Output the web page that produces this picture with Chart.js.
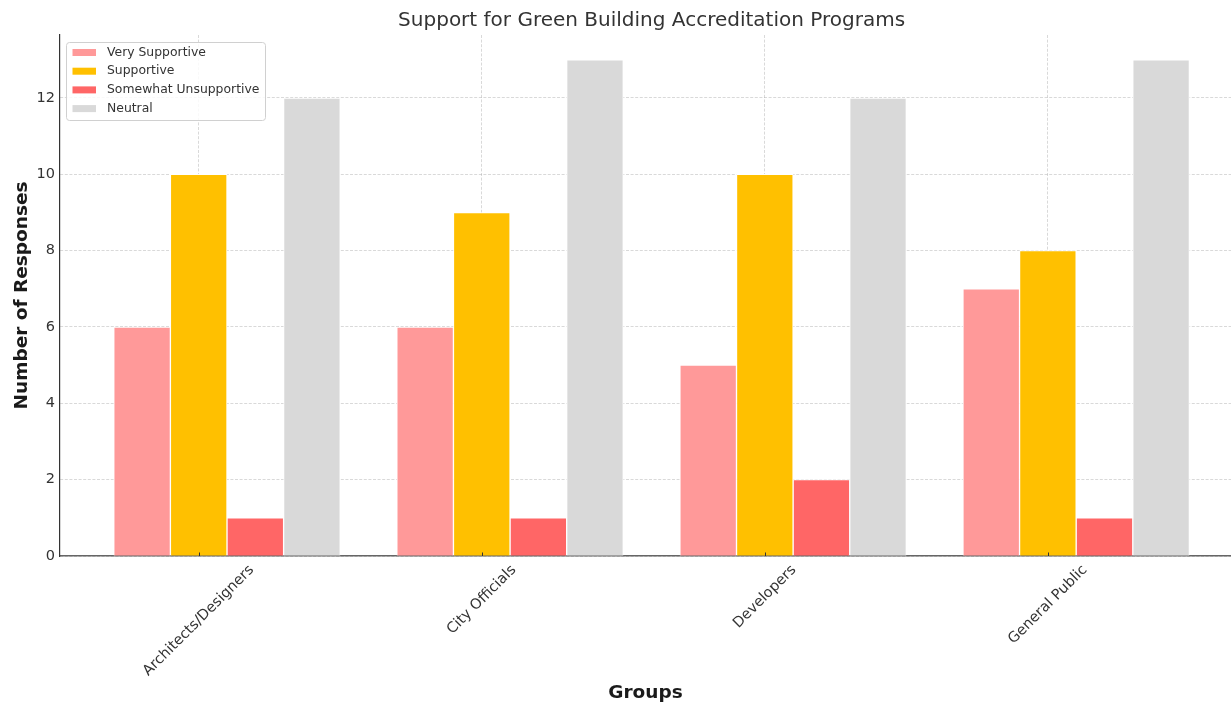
<!DOCTYPE html>
<html>
<head>
<meta charset="utf-8">
<title>Support for Green Building Accreditation Programs</title>
<script src="https://cdn.jsdelivr.net/npm/chart.js@4"></script>
<style>
    html, body { margin: 0; padding: 0; background: #fff; overflow: hidden; }
    canvas { display: block; }
</style>
</head>
<body>
<canvas id="supportChart" width="1231" height="704"></canvas>
<script>
const chartTitle = "Support for Green Building Accreditation Programs"
const groups = ["Architects/Designers", "City Officials", "Developers", "General Public"]
const seriesNames = ["Very Supportive", "Supportive", "Somewhat Unsupportive", "Neutral"]
const verySupportive = [6, 6, 5, 7]
const supportive = [10, 9, 10, 8]
const somewhatUnsupportive = [1, 1, 2, 1]
const neutral = [12, 13, 12, 13]
const yTicks = [0, 2, 4, 6, 8, 10, 12]

const seriesValues = [verySupportive, supportive, somewhatUnsupportive, neutral]
const seriesColors = ["#ff9999", "#ffc000", "#ff6666", "#d9d9d9"]
// bars are 0.2 wide, Supportive sits on the group tick and the others step off it
const barOffsets = [-0.2, 0, 0.2, 0.4]
const xRange = [-0.49, 3.69]

const FONT = "'DejaVu Sans', sans-serif"
const TEXT = "#333333"
const GRID = "rgba(128, 128, 128, 0.38)"

// title centred over the whole axes (it runs past the right edge of the canvas)
const titlePlugin = {
    id: "plotTitle",
    afterDraw(chart) {
        const { ctx, chartArea } = chart
        const x = chart.scales.x
        const centre = (chartArea.left + x.getPixelForValue(xRange[1])) / 2
        ctx.save()
        ctx.font = `20px ${FONT}`
        ctx.fillStyle = TEXT
        ctx.textAlign = "center"
        ctx.textBaseline = "middle"
        ctx.fillText(chartTitle, centre, 21)
        ctx.restore()
    }
}

// rotated group names, centred under each tick, plus short inward tick marks
const groupLabelsPlugin = {
    id: "groupLabels",
    afterDraw(chart) {
        const { ctx, chartArea } = chart
        const x = chart.scales.x
        ctx.save()
        ctx.font = `14.5px ${FONT}`
        ctx.fillStyle = TEXT
        groups.forEach((name, i) => {
            const px = x.getPixelForValue(i)
            const w = ctx.measureText(name).width
            const boxH = (w + 16) * Math.SQRT1_2
            ctx.save()
            ctx.translate(px, chartArea.bottom + 6 + boxH / 2)
            ctx.rotate(-Math.PI / 4)
            ctx.textAlign = "center"
            ctx.textBaseline = "middle"
            ctx.fillText(name, 0, 0)
            ctx.restore()

            ctx.strokeStyle = "#333"
            ctx.lineWidth = 1
            ctx.beginPath()
            ctx.moveTo(Math.round(px) + 0.5, chartArea.bottom)
            ctx.lineTo(Math.round(px) + 0.5, chartArea.bottom - 3.5)
            ctx.stroke()
        })
        ctx.restore()
    }
}

// boxed legend in the upper left corner of the plot
const boxLegendPlugin = {
    id: "boxLegend",
    afterDraw(chart) {
        const { ctx, chartArea } = chart
        const left = chartArea.left + 6.5
        const top = chartArea.top + 7.5
        ctx.save()
        ctx.fillStyle = "rgba(255, 255, 255, 0.85)"
        ctx.strokeStyle = "#d0d0d0"
        ctx.lineWidth = 1
        ctx.beginPath()
        ctx.roundRect(left, top, 199, 78, 3)
        ctx.fill()
        ctx.stroke()

        ctx.font = `12.4px ${FONT}`
        ctx.textBaseline = "middle"
        chart.data.datasets.forEach((ds, i) => {
            const y = top + 10 + i * 18.7
            ctx.fillStyle = ds.backgroundColor
            ctx.fillRect(left + 6, y - 3.5, 23.5, 7)
            ctx.fillStyle = TEXT
            ctx.fillText(ds.label, left + 40.5, y)
        })
        ctx.restore()
    }
}

const ctx = document.getElementById("supportChart").getContext("2d")
const supportChart = new Chart(ctx, {
    type: "bar",
    data: {
        datasets: seriesNames.map((name, d) => ({
            label: name,
            data: groups.map((g, i) => ({ x: i + barOffsets[d], y: seriesValues[d][i] })),
            backgroundColor: seriesColors[d],
            borderColor: "#ffffff",
            borderWidth: 1
        }))
    },
    options: {
        responsive: false,
        animation: false,
        layout: { padding: { top: 35, left: 0, right: 0, bottom: 0 } },
        datasets: {
            bar: { grouped: false, barPercentage: 1, categoryPercentage: 1 }
        },
        plugins: {
            legend: { display: false },
            title: { display: false },
            tooltip: { enabled: false }
        },
        scales: {
            x: {
                type: "linear",
                offset: false,
                min: xRange[0],
                max: 3.647,
                z: 1,
                afterBuildTicks: axis => { axis.ticks = groups.map((g, i) => ({ value: i })) },
                afterFit: axis => { axis.height = 148 },
                ticks: { display: false },
                grid: { offset: false, color: GRID, lineWidth: 0.8, drawTicks: false },
                border: { color: "#666666", width: 1.5, dash: [3, 1.6] },
                title: {
                    display: true,
                    text: "Groups",
                    color: "#1a1a1a",
                    font: { family: FONT, size: 18.5, weight: "bold" },
                    padding: { top: 0, bottom: 0 }
                }
            },
            y: {
                min: 0,
                max: 13.65,
                z: 1,
                afterBuildTicks: axis => { axis.ticks = yTicks.map(v => ({ value: v })) },
                afterFit: axis => { axis.width = 60 },
                ticks: { color: TEXT, font: { family: FONT, size: 14.5 }, padding: 5 },
                grid: { color: GRID, lineWidth: 0.8, drawTicks: false },
                border: { color: "#333333", width: 1.2, dash: [3, 1.6] },
                title: {
                    display: true,
                    text: "Number of Responses",
                    color: "#1a1a1a",
                    font: { family: FONT, size: 18.5, weight: "bold" },
                    padding: { top: 11, bottom: 0 }
                }
            }
        }
    },
    plugins: [titlePlugin, groupLabelsPlugin, boxLegendPlugin]
})
</script>
</body>
</html>
